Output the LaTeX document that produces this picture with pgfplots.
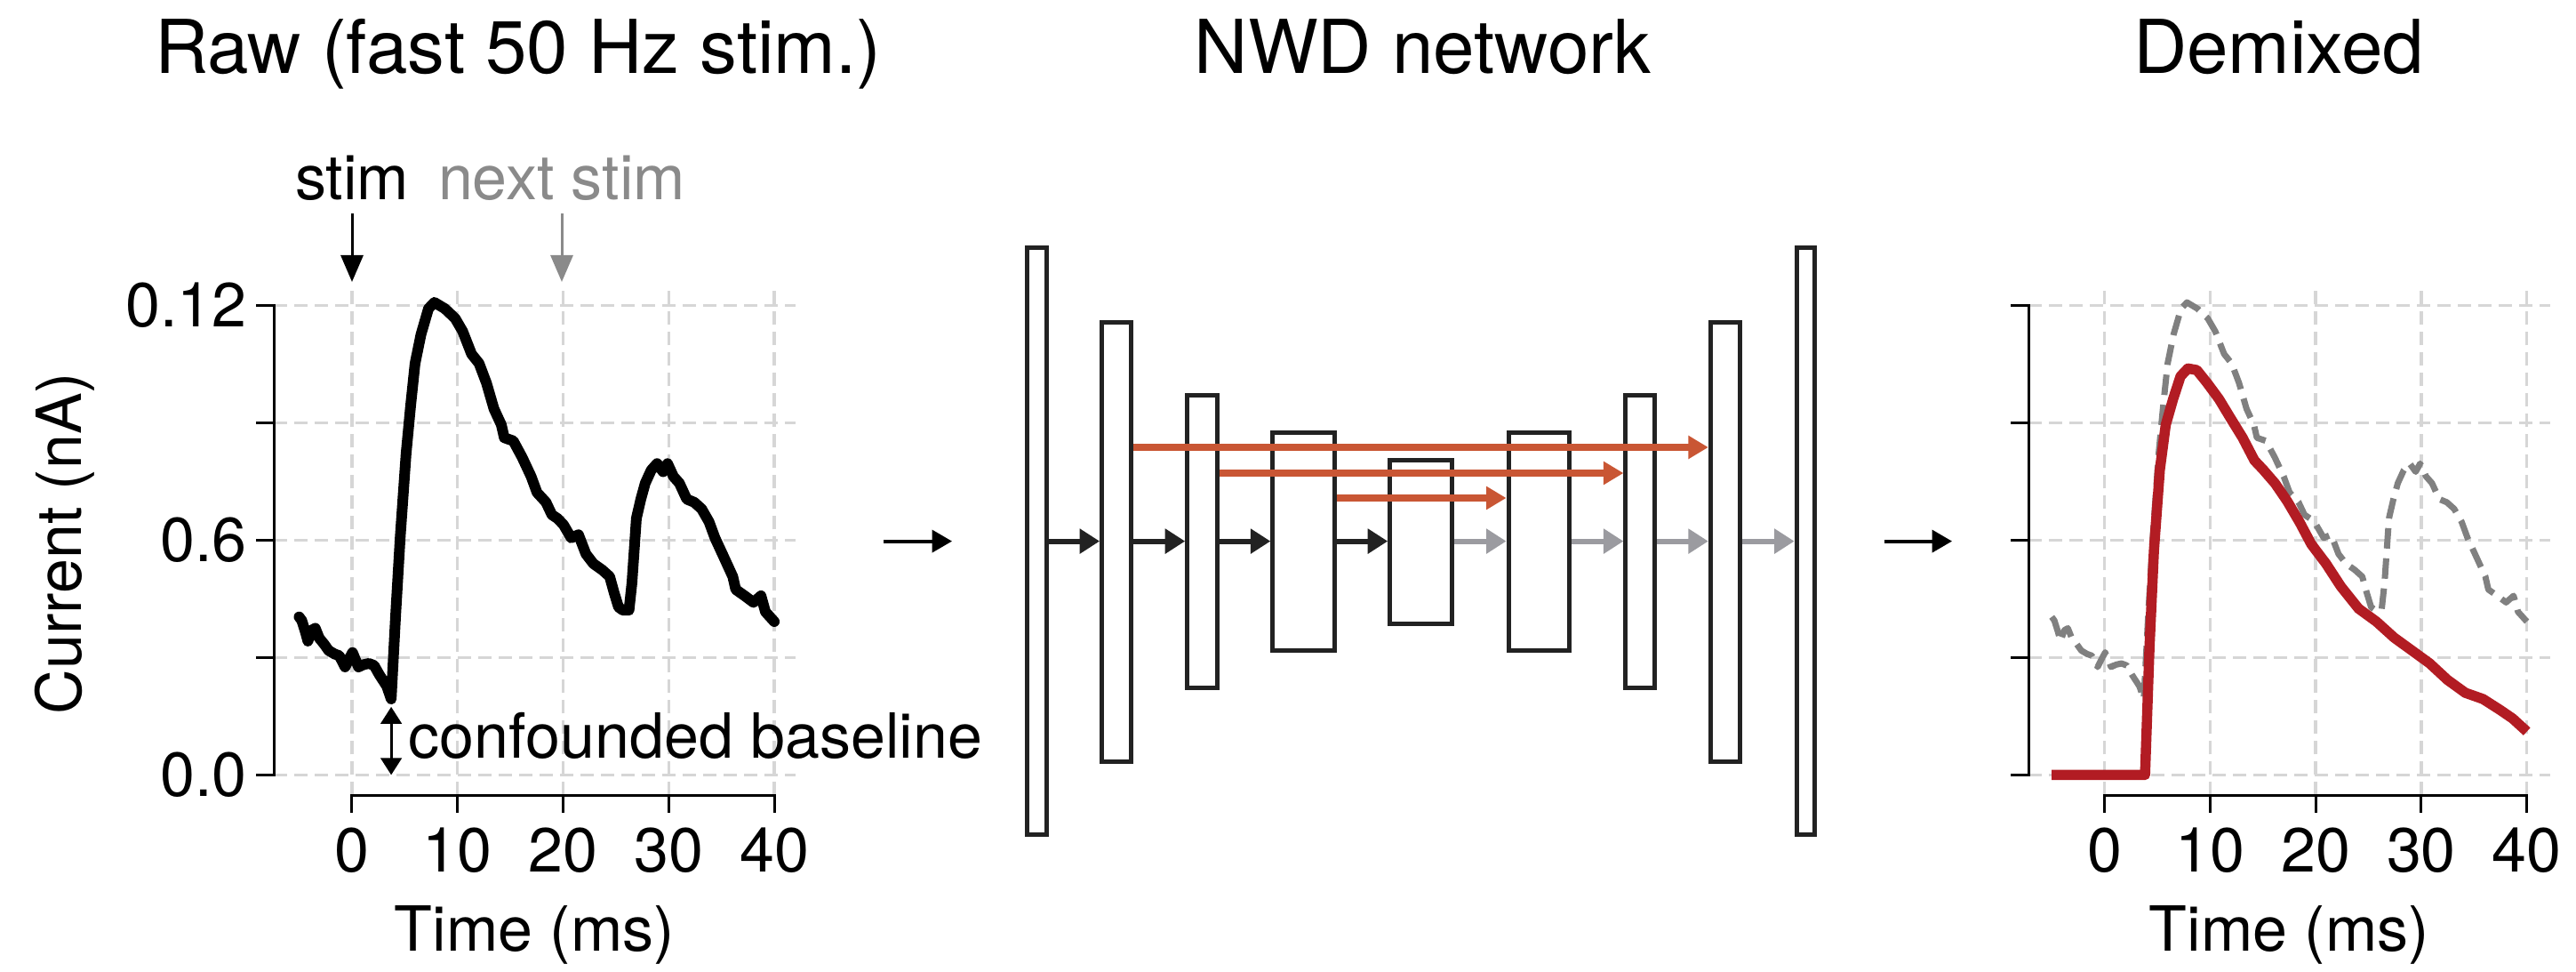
\documentclass[border=0pt]{standalone}
\usepackage{pgfplots}
\usepackage{pgfplotstable}
\pgfplotsset{compat=1.18}
\usepackage{fontspec}
\setmainfont{TeX Gyre Heros}
\usetikzlibrary{arrows.meta}

\definecolor{gridgray}{RGB}{214,214,214}
\definecolor{tracegray}{RGB}{128,128,128}
\definecolor{stimgray}{RGB}{138,138,138}
\definecolor{demixred}{RGB}{178,28,35}
\definecolor{skiporange}{RGB}{201,86,52}
\definecolor{boxdark}{RGB}{34,34,34}
\definecolor{arrowgray}{RGB}{155,155,160}

% recorded current, fast 50 Hz train (time in ms, current in nA)
\pgfplotstableread{
t i
-5.00 0.0404
-4.75 0.0395
-4.40 0.0365
-4.17 0.0342
-3.80 0.0370
-3.47 0.0375
-3.10 0.0350
-2.62 0.0334
-2.20 0.0318
-1.63 0.0309
-1.20 0.0305
-0.65 0.0276
-0.20 0.0300
0.06 0.0313
0.62 0.0276
1.10 0.0282
1.61 0.0285
2.10 0.0280
2.60 0.0256
3.30 0.0227
3.72 0.0194
4.14 0.0408
4.57 0.0606
5.13 0.0821
5.56 0.0944
5.98 0.1052
6.54 0.1126
7.25 0.1192
7.81 0.1208
8.80 0.1192
9.78 0.1167
10.49 0.1134
11.33 0.1076
12.04 0.1052
12.74 0.1002
13.45 0.0936
14.15 0.0895
14.43 0.0862
15.28 0.0854
16.12 0.0812
16.97 0.0763
17.53 0.0722
18.38 0.0697
18.94 0.0665
19.50 0.0655
20.05 0.0639
20.76 0.0606
21.46 0.0614
22.16 0.0565
22.87 0.0540
23.71 0.0524
24.41 0.0507
24.83 0.0466
25.25 0.0429
25.67 0.0421
26.24 0.0421
26.52 0.0491
26.94 0.0656
27.36 0.0705
27.78 0.0746
28.34 0.0779
28.90 0.0796
29.47 0.0775
29.89 0.0796
30.45 0.0763
31.01 0.0746
31.71 0.0705
32.42 0.0697
33.12 0.0680
33.82 0.0647
34.38 0.0606
35.22 0.0557
36.07 0.0507
36.35 0.0474
37.19 0.0458
38.03 0.0441
38.74 0.0458
39.16 0.0417
40.00 0.0392
}\rawtrace

% single-response estimate returned by the network
\pgfplotstableread{
t i
-5.00 0.0
3.84 0.0
4.26 0.0326
4.68 0.0573
5.24 0.0780
5.80 0.0895
6.50 0.0961
7.20 0.1019
7.90 0.1039
8.74 0.1035
9.72 0.1002
10.84 0.0961
11.96 0.0911
13.08 0.0862
14.20 0.0804
15.04 0.0780
16.16 0.0745
17.30 0.0700
18.50 0.0645
19.58 0.0590
20.98 0.0540
22.38 0.0482
24.07 0.0425
25.75 0.0392
27.43 0.0351
29.12 0.0318
30.80 0.0285
32.48 0.0243
34.17 0.0210
35.85 0.0194
37.53 0.0165
38.66 0.0144
40.00 0.0111
}\demixtrace

\newcommand{\lbl}{\fontsize{14}{16.8}\selectfont}
\newcommand{\ttl}{\fontsize{16.7}{20}\selectfont}

\tikzset{spine/.style={black, line width=0.6pt, line cap=rect}}

\pgfplotsset{
  trace panel/.style={
    scale only axis, width=117.36pt, height=114.46pt,
    anchor=south west,
    ymin=-0.0052, ymax=0.1249,
    xtick={0,10,20,30,40},
    ytick={0,0.03,0.06,0.09,0.12},
    axis line style={draw=none},
    xtick pos=bottom, ytick pos=left,
    tick align=outside, major tick length=4pt,
    tick style={black, line width=0.6pt},
    grid=major,
    major grid style={gridgray, line width=0.7pt, dash pattern=on 3pt off 1.6pt},
    tick label style={font=\lbl, text=black},
    xticklabel shift=3.2pt, yticklabel shift=1.9pt,
    clip=false,
  },
}

\begin{document}
\begin{tikzpicture}[every node/.style={inner sep=0pt}]

% canvas in pixel units for titles, labels and the network sketch
\begin{axis}[at={(0pt,0pt)}, anchor=south west, scale only axis,
  width=579.6pt, height=218.6pt, xmin=0, xmax=2898, ymin=0, ymax=1093,
  y dir=reverse, hide axis, clip=false]
  \node[anchor=base] at (axis cs:583,83) {\ttl Raw (fast 50 Hz stim.)};
  \node[anchor=base] at (axis cs:1600.6,83) {\ttl NWD network};
  \node[anchor=base] at (axis cs:2563.4,83) {\ttl Demixed};
  \node[anchor=base, rotate=90] at (axis cs:92,611) {\lbl Current (nA)};
  \node[anchor=base] at (axis cs:601.4,1069) {\lbl Time (ms)};
  \node[anchor=base] at (axis cs:2575.4,1069) {\lbl Time (ms)};
  % stimulus markers
  \node[anchor=base] at (axis cs:396,224.5) {\lbl stim};
  \node[anchor=base, text=stimgray] at (axis cs:632,224.5) {\lbl next stim};
  \draw[black, line width=0.6pt, -{Triangle[length=6pt,width=5pt]}]
    (axis cs:396,240) -- (axis cs:396,317);
  \draw[stimgray, line width=0.6pt, -{Triangle[length=6pt,width=5pt]}]
    (axis cs:632,240) -- (axis cs:632,317);
  % flow arrows between panels
  \draw[black, line width=0.8pt, -{Triangle[length=4.5pt,width=5pt]}]
    (axis cs:994,608.6) -- (axis cs:1071,608.6);
  \draw[black, line width=0.8pt, -{Triangle[length=4.5pt,width=5pt]}]
    (axis cs:2120,608.6) -- (axis cs:2196,608.6);
  % network blocks
  \begin{scope}[boxdark, line width=1pt]
    \draw (axis cs:1155.4,279) rectangle (axis cs:1177.1,938.3);
    \draw (axis cs:1239.6,362.2) rectangle (axis cs:1272.5,856.7);
    \draw (axis cs:1335.7,444.3) rectangle (axis cs:1369.3,773.5);
    \draw (axis cs:1431.8,486.2) rectangle (axis cs:1501.2,731.7);
    \draw (axis cs:1563.7,517.3) rectangle (axis cs:1633.1,701.1);
    \draw (axis cs:1697,486.2) rectangle (axis cs:1765.6,731.7);
    \draw (axis cs:1828.9,444.3) rectangle (axis cs:1861.8,773.5);
    \draw (axis cs:1924.3,362.2) rectangle (axis cs:1957.2,856.7);
    \draw (axis cs:2021.1,279) rectangle (axis cs:2041.4,938.3);
  \end{scope}
  % encoder path
  \begin{scope}[boxdark, line width=1.2pt, -{Triangle[length=4.5pt,width=5.4pt]}]
    \draw (axis cs:1179.6,608.6) -- (axis cs:1237.1,608.6);
    \draw (axis cs:1275,608.6) -- (axis cs:1333.2,608.6);
    \draw (axis cs:1371.8,608.6) -- (axis cs:1429.3,608.6);
    \draw (axis cs:1503.7,608.6) -- (axis cs:1561.2,608.6);
  \end{scope}
  % decoder path
  \begin{scope}[arrowgray, line width=1.2pt, -{Triangle[length=4.5pt,width=5.4pt]}]
    \draw (axis cs:1635.6,608.6) -- (axis cs:1694.5,608.6);
    \draw (axis cs:1768.1,608.6) -- (axis cs:1826.4,608.6);
    \draw (axis cs:1864.3,608.6) -- (axis cs:1921.8,608.6);
    \draw (axis cs:1959.7,608.6) -- (axis cs:2018.6,608.6);
  \end{scope}
  % skip connections
  \begin{scope}[skiporange, line width=1.6pt, -{Triangle[length=4.5pt,width=5pt]}]
    \draw (axis cs:1275,503) -- (axis cs:1921.8,503);
    \draw (axis cs:1371.8,532) -- (axis cs:1826.4,532);
    \draw (axis cs:1503.7,560) -- (axis cs:1694.5,560);
  \end{scope}
\end{axis}

% raw recording
\begin{axis}[trace panel, at={(61.6pt,39.74pt)}, xmin=-7.4, xmax=42,
  xticklabels={0,10,20,30,40}, yticklabels={0.0,{},0.6,{},0.12}]
  \draw[spine] (axis cs:0,-0.0052) -- (axis cs:40,-0.0052);
  \draw[spine] (axis cs:-7.4,0) -- (axis cs:-7.4,0.12);
  \addplot[black, line width=2.4pt, line join=round, line cap=round] table[x=t, y=i] {\rawtrace};
  \draw[black, line width=0.6pt, {Triangle[length=3.8pt,width=4.7pt]}-{Triangle[length=3.8pt,width=4.7pt]}]
    (axis cs:3.72,0.0174) -- (axis cs:3.72,0);
  \node[anchor=base west] at (axis cs:5.3,0.0042) {\lbl confounded baseline};
\end{axis}

% demixed output
\begin{axis}[trace panel, at={(456.4pt,39.74pt)}, xmin=-7.2, xmax=42.2,
  xticklabels={0,10,20,30,40}, yticklabels={}]
  \draw[spine] (axis cs:0,-0.0052) -- (axis cs:40,-0.0052);
  \draw[spine] (axis cs:-7.2,0) -- (axis cs:-7.2,0.12);
  \addplot[tracegray, line width=1.4pt, dash pattern=on 4.6pt off 2.2pt, line join=round] table[x=t, y=i] {\rawtrace};
  \addplot[demixred, line width=2.3pt, line join=round] table[x=t, y=i] {\demixtrace};
\end{axis}

\pgfresetboundingbox
\useasboundingbox (0,0) rectangle (579.6pt,218.6pt);
\end{tikzpicture}
\end{document}
